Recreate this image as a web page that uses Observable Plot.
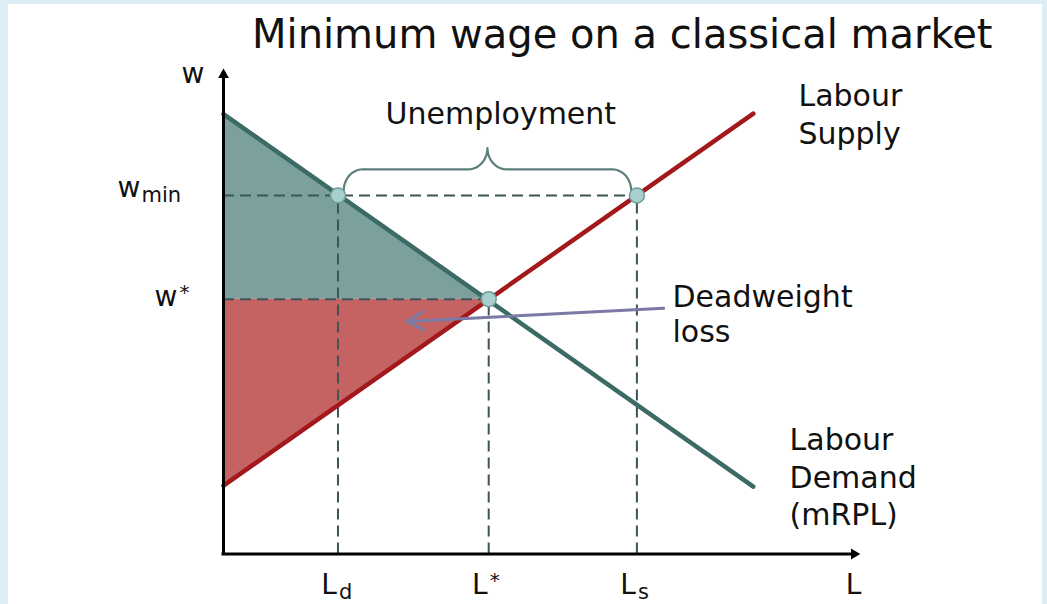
<!DOCTYPE html>
<html>
<head>
<meta charset="utf-8">
<script src="https://cdn.jsdelivr.net/npm/d3@7"></script>
<script src="https://cdn.jsdelivr.net/npm/@observablehq/plot@0.6"></script>
<style>
  html, body { margin: 0; padding: 0; background: #dcedf5; }
  #box { position: absolute; left: 8px; top: 4px; width: 1034px; height: 600px; background: #fff; overflow: hidden; }
  #title { height: 60px; box-sizing: border-box; padding-left: 244px; padding-top: 10px;
           font-family: "DejaVu Sans"; font-size: 40px; line-height: 40px; color: #111; white-space: nowrap; }
  #chart svg { display: block; }
</style>
</head>
<body>
<div id="box">
  <div id="title">Minimum wage on a classical market</div>
  <div id="chart"></div>
</div>
<script>
// ---- data (arbitrary units) ----
const L_AXIS_MAX = 10;
const W_AXIS_MAX = 10;

const demandL = [0, 8.33];
const demandW = [9.08, 1.39];
const supplyL = [0, 8.33];
const supplyW = [1.41, 9.09];

const wMin = 7.40;
const wStar = 5.26;
const Ld = 1.80;
const LStar = 4.17;
const Ls = 6.50;

const dwlArrowFrom = [6.92, 5.07];
const dwlArrowTo = [2.89, 4.80];

const curveLabels = ["Labour\nSupply", "Labour\nDemand\n(mRPL)"];
const curveLabelL = [9.04, 8.90];
const curveLabelW = [8.47, 0.59];

const unemploymentLabel = "Unemployment";
const unemploymentPos = [4.36, 8.88];
const dwlLabel = "Deadweight\nloss";
const dwlPos = [7.06, 4.37];

const xTickValues = [Ld, LStar, Ls];
const xTickBase = ["L", "L", "L"];
const xTickSub = ["d", "", "s"];
const xTickSup = ["", "*", ""];

const titleText = "Minimum wage on a classical market";

// ---- derived tables ----
const demand = demandL.map((L, i) => ({L, w: demandW[i]}));
const supply = supplyL.map((L, i) => ({L, w: supplyW[i]}));
const tealArea = [{L: 0, lo: wStar, hi: demandW[0]}, {L: LStar, lo: wStar, hi: wStar}];
const redArea = [{L: 0, lo: supplyW[0], hi: wStar}, {L: LStar, lo: wStar, hi: wStar}];

const hDashes = [{w: wMin, x2: Ls}, {w: wStar, x2: LStar}];
const vDashes = [{L: Ld, y2: wMin}, {L: LStar, y2: wStar}, {L: Ls, y2: wMin}];
const keyPoints = [{L: Ld, w: wMin}, {L: Ls, w: wMin}, {L: LStar, w: wStar}];

// brace above the unemployment gap
function braceAbove(x0, x1, y0, rx, ry) {
  const xm = (x0 + x1) / 2, pts = [], n = 12;
  const arc = (cx, cy, a0, a1) => {
    for (let k = 0; k <= n; k++) {
      const a = a0 + (a1 - a0) * k / n;
      pts.push({L: cx + rx * Math.cos(a), w: cy + ry * Math.sin(a)});
    }
  };
  arc(x0 + rx, y0, Math.PI, Math.PI / 2);
  arc(xm - rx, y0 + 2 * ry, -Math.PI / 2, 0);
  arc(xm + rx, y0 + 2 * ry, Math.PI, 1.5 * Math.PI);
  arc(x1 - rx, y0, Math.PI / 2, 0);
  return pts;
}
const brace = braceAbove(Ld + 0.09, Ls - 0.09, wMin + 0.1, 0.3, 0.44);

const font = "DejaVu Sans";
const ink = "#111";

const chart = Plot.plot({
  width: 1034,
  height: 540,
  marginLeft: 215,
  marginRight: 183,
  marginTop: 5,
  marginBottom: 50.5,
  x: {domain: [0, L_AXIS_MAX], axis: null},
  y: {domain: [0, W_AXIS_MAX], axis: null},
  style: {fontFamily: font, background: "white", color: ink, overflow: "visible"},
  marks: [
    Plot.areaY(tealArea, {x: "L", y1: "lo", y2: "hi", fill: "#7ba09e"}),
    Plot.areaY(redArea, {x: "L", y1: "lo", y2: "hi", fill: "#c56363"}),
    Plot.ruleY(hDashes, {y: "w", x1: 0, x2: "x2", stroke: "#3f5454", strokeWidth: 2, strokeDasharray: "11,6"}),
    Plot.ruleX(vDashes, {x: "L", y1: 0, y2: "y2", stroke: "#3f5454", strokeWidth: 2, strokeDasharray: "11,6"}),
    Plot.line(demand, {x: "L", y: "w", stroke: "#3c6b66", strokeWidth: 4.5}),
    Plot.line(supply, {x: "L", y: "w", stroke: "#a3191b", strokeWidth: 4.5}),
    Plot.line(brace, {x: "L", y: "w", stroke: "#5d7f7c", strokeWidth: 2.2, curve: "linear"}),
    Plot.dot(keyPoints, {x: "L", y: "w", r: 7.5, fill: "#a7cfce", stroke: "#6f9c98", strokeWidth: 1.5}),
    // axes
    Plot.ruleY([0], {x1: 0, x2: L_AXIS_MAX * 0.99, stroke: "#000", strokeWidth: 3, strokeLinecap: "square"}),
    Plot.ruleX([0], {y1: 0, y2: W_AXIS_MAX * 0.985, stroke: "#000", strokeWidth: 3, strokeLinecap: "square"}),
    Plot.dot([{L: 0, w: W_AXIS_MAX * 0.989}], {x: "L", y: "w", symbol: "triangle", r: 4, fill: "#000", stroke: "none"}),
    Plot.dot([{L: L_AXIS_MAX * 0.9915, w: 0}], {x: "L", y: "w", symbol: "triangle", r: 4, rotate: 90, fill: "#000", stroke: "none"}),
    // deadweight loss arrow
    Plot.arrow([{x1: dwlArrowFrom[0], y1: dwlArrowFrom[1], x2: dwlArrowTo[0], y2: dwlArrowTo[1]}],
      {x1: "x1", y1: "y1", x2: "x2", y2: "y2", stroke: "#7b79a5", strokeWidth: 3, headLength: 9, bend: 0}),
    // curve labels
    Plot.text(curveLabels, {x: (d, i) => curveLabelL[i], y: (d, i) => curveLabelW[i], text: d => d,
      textAnchor: "start", lineAnchor: "bottom", fontSize: 30, lineHeight: 1.25, fill: ink, fontFamily: font}),
    Plot.text([unemploymentLabel], {x: unemploymentPos[0], y: unemploymentPos[1], text: d => d,
      textAnchor: "middle", lineAnchor: "bottom", fontSize: 30, fill: ink, fontFamily: font}),
    Plot.text([dwlLabel], {x: dwlPos[0], y: dwlPos[1], text: d => d,
      textAnchor: "start", lineAnchor: "bottom", fontSize: 30, lineHeight: 1.17, fill: ink, fontFamily: font}),
    // y-axis labels
    Plot.text(["w"], {x: 0, y: W_AXIS_MAX, text: d => d, textAnchor: "end", lineAnchor: "bottom", dx: -19, dy: 13, fontSize: 28, fill: ink, fontFamily: font}),
    Plot.text(["w"], {x: 0, y: wMin, text: d => d, textAnchor: "end", lineAnchor: "bottom", dx: -83, dy: 2, fontSize: 28, fill: ink, fontFamily: font}),
    Plot.text(["min"], {x: 0, y: wMin, text: d => d, textAnchor: "start", lineAnchor: "bottom", dx: -82, dy: 7, fontSize: 21, fill: ink, fontFamily: font}),
    Plot.text(["w"], {x: 0, y: wStar, text: d => d, textAnchor: "end", lineAnchor: "bottom", dx: -46, dy: 7, fontSize: 28, fill: ink, fontFamily: font}),
    Plot.text(["*"], {x: 0, y: wStar, text: d => d, textAnchor: "start", lineAnchor: "bottom", dx: -44, dy: 0, fontSize: 20, fill: ink, fontFamily: font}),
    // x-axis labels
    Plot.text(xTickValues, {x: d => d, y: 0, text: (d, i) => xTickBase[i], textAnchor: "end", lineAnchor: "bottom", dx: -1, dy: 40, fontSize: 28, fill: ink, fontFamily: font}),
    Plot.text(xTickValues, {x: d => d, y: 0, text: (d, i) => xTickSub[i], textAnchor: "start", lineAnchor: "bottom", dx: 1, dy: 45, fontSize: 21, fill: ink, fontFamily: font}),
    Plot.text(xTickValues, {x: d => d, y: 0, text: (d, i) => xTickSup[i], textAnchor: "start", lineAnchor: "bottom", dx: 1, dy: 33, fontSize: 20, fill: ink, fontFamily: font}),
    Plot.text(["L"], {x: L_AXIS_MAX, y: 0, text: d => d, textAnchor: "middle", lineAnchor: "bottom", dx: -6, dy: 40, fontSize: 28, fill: ink, fontFamily: font})
  ]
});
document.getElementById("title").textContent = titleText;
document.getElementById("chart").appendChild(chart);
</script>
</body>
</html>
